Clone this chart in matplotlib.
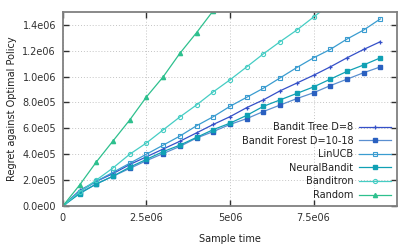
import numpy as np
import matplotlib
matplotlib.use("Agg")
import matplotlib.pyplot as plt

# sample times (every 0.5e6)
x = np.arange(0, 10.0e6, 0.5e6)

bandit_tree = np.array([0, 0.12, 0.19, 0.25, 0.32, 0.38, 0.44, 0.50, 0.565, 0.63,
                        0.69, 0.76, 0.82, 0.89, 0.95, 1.01, 1.075, 1.145, 1.21, 1.27]) * 1e6
bandit_forest = np.array([0, 0.10, 0.17, 0.23, 0.29, 0.35, 0.405, 0.46, 0.525, 0.575,
                          0.63, 0.675, 0.73, 0.78, 0.83, 0.875, 0.93, 0.98, 1.03, 1.075]) * 1e6
linucb = np.array([0, 0.11, 0.19, 0.26, 0.33, 0.40, 0.47, 0.54, 0.62, 0.69,
                   0.77, 0.84, 0.91, 0.99, 1.07, 1.145, 1.21, 1.29, 1.36, 1.446]) * 1e6
neural = np.array([0, 0.095, 0.17, 0.23, 0.30, 0.36, 0.42, 0.47, 0.53, 0.59,
                   0.64, 0.70, 0.77, 0.82, 0.87, 0.92, 0.98, 1.04, 1.09, 1.145]) * 1e6
banditron = np.array([0, 0.11, 0.20, 0.294, 0.40, 0.487, 0.588, 0.688, 0.781, 0.882,
                      0.975, 1.075, 1.176, 1.27, 1.36, 1.46, 1.56]) * 1e6
random_ = np.array([0, 0.162, 0.34, 0.503, 0.665, 0.843, 0.998, 1.18, 1.34, 1.51]) * 1e6

xticks = [0, 2.5e6, 5e6, 7.5e6]
xtick_labels = ["0", "2.5e06", "5e06", "7.5e06"]
yticks = [0, 2e5, 4e5, 6e5, 8e5, 1.0e6, 1.2e6, 1.4e6]
ytick_labels = ["0.0e00", "2.0e05", "4.0e05", "6.0e05", "8.0e05", "1.0e06", "1.2e06", "1.4e06"]

plt.rcParams['font.family'] = ['DejaVu Sans']
fig = plt.figure(figsize=(4.14, 2.49), dpi=100)
ax = fig.add_axes([0.152, 0.173, 0.807, 0.779])

ax.plot(x, bandit_tree, '-', color='#3550c8', marker='+', ms=3.5, lw=0.9, mew=0.9, label='Bandit Tree D=8')
ax.plot(x, bandit_forest, '-', color='#5a8fd0', marker='s', ms=2.6, lw=0.9, mfc='#2a60c0', mec='#2a60c0',
        label='Bandit Forest D=10-18')
ax.plot(x, linucb, '-', color='#3a9cd0', marker='s', ms=3, lw=0.9, mfc='none', mew=0.8, label='LinUCB')
ax.plot(x, neural, '-', color='#10a0b4', marker='s', ms=3.3, lw=0.9, label='NeuralBandit')
ax.plot(x[:len(banditron)], banditron, '-', color='#45cdc4', marker='o', ms=3, lw=0.9, mfc='none',
        mew=0.8, label='Banditron')
ax.plot(x[:len(random_)], random_, '-', color='#2ec08e', marker='^', ms=3, lw=0.9, label='Random')

ax.set_xlim(0, 1.0e7)
ax.set_ylim(0, 1.5e6)
ax.set_xticks(xticks)
ax.set_xticklabels(xtick_labels)
ax.set_yticks(yticks)
ax.set_yticklabels(ytick_labels)
ax.tick_params(direction='in', length=4, width=1, labelsize=7, colors='#303030',
               top=True, right=True, pad=5)
ax.grid(True, linestyle=(0, (1, 2)), color='#c4c4c4', lw=0.7)
for s in ax.spines.values():
    s.set_color('#808080')
    s.set_linewidth(1.3)

ax.set_xlabel('Sample time', fontsize=7, color='#202020', labelpad=8)
ax.set_ylabel('Regret against Optimal Policy', fontsize=7, color='#202020')

leg = ax.legend(loc='lower right', frameon=False, fontsize=7, markerfirst=False,
                handlelength=3.3, labelspacing=0.37, borderaxespad=0.2, handletextpad=0.6)
for t in leg.get_texts():
    t.set_color('#202020')

fig.savefig('out.png', dpi=100)
